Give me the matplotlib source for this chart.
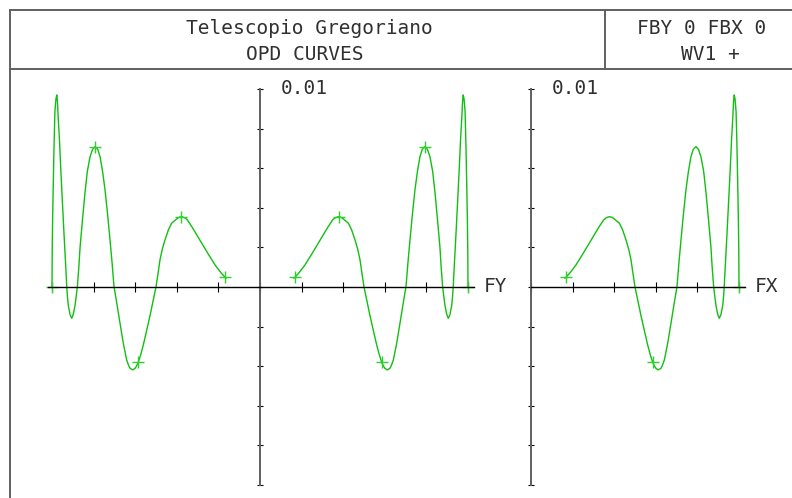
import matplotlib.pyplot as plt
import numpy as np

# normalized pupil coordinate (one half of the fan) and OPD (x 1e-3)
pupil = [0.163, 0.168, 0.190, 0.216, 0.248, 0.280, 0.305, 0.328, 0.350, 0.362,
         0.376, 0.390, 0.405, 0.425, 0.440, 0.457, 0.470, 0.481, 0.490, 0.500,
         0.515, 0.529, 0.545, 0.561, 0.573, 0.585, 0.593, 0.600, 0.612, 0.625,
         0.632, 0.641, 0.657, 0.673, 0.688, 0.702, 0.711, 0.721, 0.733, 0.745,
         0.757, 0.769, 0.780, 0.793, 0.805, 0.817, 0.830, 0.841, 0.853, 0.865,
         0.871, 0.878, 0.884, 0.889, 0.897, 0.905, 0.913, 0.922, 0.926, 0.929,
         0.935, 0.942, 0.950, 0.958, 0.964, 0.970, 0.974, 0.977, 0.981, 0.986,
         0.990, 0.994, 0.997, 0.999, 1.000]
opd = [0.45, 0.49, 0.75, 1.11, 1.65, 2.21, 2.65, 3.05, 3.40, 3.50,
       3.55, 3.52, 3.40, 3.22, 2.90, 2.37, 1.90, 1.36, 0.70, 0.00,
       -0.75, -1.46, -2.20, -2.93, -3.40, -3.80, -3.98, -4.10, -4.19, -4.10,
       -3.95, -3.69, -2.85, -1.83, -0.85, 0.03, 1.20, 2.37, 3.70, 4.90,
       5.85, 6.58, 6.95, 7.09, 6.95, 6.58, 5.85, 4.81, 3.45, 2.02,
       1.00, 0.02, -0.50, -0.91, -1.35, -1.58, -1.40, -0.91, -0.45, 0.02,
       1.25, 2.63, 4.30, 6.00, 7.40, 8.52, 9.40, 9.70, 9.50, 8.85,
       7.20, 5.15, 3.40, 1.78, 0.00]

# marker positions
mark_fy_x = [0.17, 0.3775, 0.585, 0.7925, 1.0]
mark_fy_y = [0.49, 3.55, -3.80, 7.09, 0.0]
mark_fx_x = [0.17, 0.585, 1.0]
mark_fx_y = [0.49, -3.80, 0.0]

title_lines = ['Telescopio Gregoriano', 'OPD CURVES']
info_lines = ['FBY 0 FBX 0', 'WV1 +']
scale_label = '0.01'

green = '#10c010'
font = dict(family='DejaVu Sans Mono', fontsize=14, color='#303030')

W, H = 792, 498
fig = plt.figure(figsize=(W / 100, H / 100), dpi=100)

# frame and title box
frame = dict(color='#606060', lw=1.4, transform=fig.transFigure)
def fx(px):
    return px / W
def fy(py):
    return 1 - py / H
fig.add_artist(plt.Line2D([fx(10), fx(10)], [fy(10), fy(498)], **frame))
fig.add_artist(plt.Line2D([fx(10), fx(792)], [fy(10), fy(10)], **frame))
fig.add_artist(plt.Line2D([fx(10), fx(792)], [fy(69), fy(69)], **frame))
fig.add_artist(plt.Line2D([fx(605), fx(605)], [fy(10), fy(69)], **frame))

fig.text(fx(309), fy(28), title_lines[0], ha='center', va='center', **font)
fig.text(fx(305), fy(54), title_lines[1], ha='center', va='center', **font)
fig.text(fx(702), fy(28), info_lines[0], ha='center', va='center', **font)
fig.text(fx(710), fy(54), info_lines[1], ha='center', va='center', **font)

# pixel mapping of the plot panels
xs = 208.0          # px per unit pupil
ys = 19800.0        # px per unit OPD
y0 = 287.0
ylim = (-0.0105, 0.0105)


def make_axes(x0, xlim):
    left = x0 + xlim[0] * xs
    top = y0 - ylim[1] * ys
    w = (xlim[1] - xlim[0]) * xs
    h = (ylim[1] - ylim[0]) * ys
    ax = fig.add_axes([left / W, 1 - (top + h) / H, w / W, h / H])
    ax.set_xlim(xlim)
    ax.set_ylim(ylim)
    ax.patch.set_alpha(0)
    for s in ['top', 'right']:
        ax.spines[s].set_visible(False)
    ax.spines['left'].set_position(('data', 0))
    ax.spines['bottom'].set_position(('data', 0))
    ax.spines['left'].set_color('#606060')
    ax.spines['left'].set_linewidth(1.4)
    ax.spines['bottom'].set_color('black')
    ax.spines['bottom'].set_linewidth(1.0)
    ax.spines['left'].set_bounds(-0.01, 0.01)
    ax.set_yticks(np.linspace(-0.01, 0.01, 11))
    ax.tick_params(axis='x', direction='inout', length=6.5, width=0.8,
                   labelbottom=False)
    ax.tick_params(axis='y', direction='inout', length=4.3, width=0.8,
                   labelleft=False)
    ax.text(0.10, 0.01, scale_label, ha='left', va='center', **font)
    return ax


p = np.array(pupil)
o = np.array(opd) * 1e-3

# FY panel (tangential fan)
ax1 = make_axes(260, (-1.15, 1.15))
ax1.spines['bottom'].set_bounds(-1.02, 1.03)
ax1.set_xticks(np.linspace(-1, 1, 11))
ax1.plot(p, o, color=green, lw=1.0)
ax1.plot(-p, o, color=green, lw=1.0)
mx = np.array(mark_fy_x)
my = np.array(mark_fy_y) * 1e-3
ax1.plot(np.r_[-mx, mx], np.r_[my, my], '+', color='#30d030', ms=9, mew=1.0,
         clip_on=False)
ax1.text(1.077, 0, 'FY', ha='left', va='center', **font)

# FX panel (sagittal fan)
ax2 = make_axes(531, (-0.1, 1.25))
ax2.spines['bottom'].set_bounds(0, 1.03)
ax2.set_xticks(np.linspace(0, 1, 6))
ax2.plot(p, o, color=green, lw=1.0)
ax2.plot(mark_fx_x, np.array(mark_fx_y) * 1e-3, '+', color='#30d030', ms=9,
         mew=1.0, clip_on=False)
ax2.text(1.077, 0, 'FX', ha='left', va='center', **font)

fig.savefig('out.png', dpi=100)
